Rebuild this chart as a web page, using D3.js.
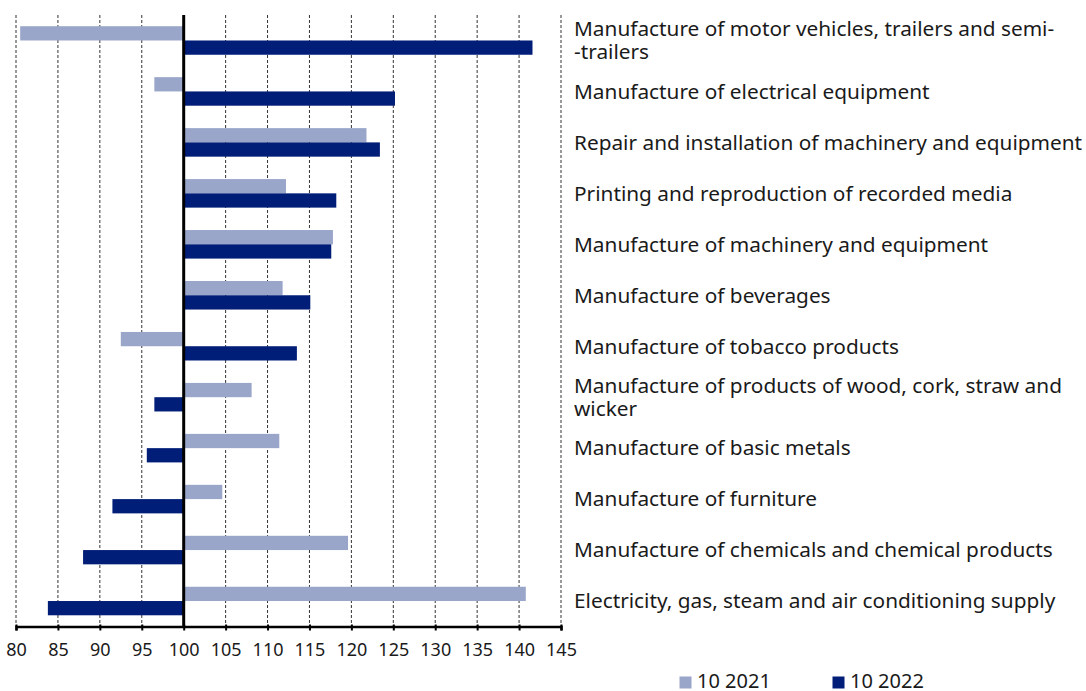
<!DOCTYPE html>
<html><head><meta charset="utf-8">
<script src="https://cdn.jsdelivr.net/npm/d3@7"></script>
<style>body{margin:0;background:#fff}svg{display:block}text{font-family:"Noto Sans",sans-serif;fill:#1a1a1a}</style>
</head><body><svg id="c" width="1086" height="691"></svg>
<script>
const categories = [
  ["Manufacture of motor vehicles, trailers and semi-", "-trailers"],
  ["Manufacture of electrical equipment"],
  ["Repair and installation of machinery and equipment"],
  ["Printing and reproduction of recorded media"],
  ["Manufacture of machinery and equipment"],
  ["Manufacture of beverages"],
  ["Manufacture of tobacco products"],
  ["Manufacture of products of wood, cork, straw and", "wicker"],
  ["Manufacture of basic metals"],
  ["Manufacture of furniture"],
  ["Manufacture of chemicals and chemical products"],
  ["Electricity, gas, steam and air conditioning supply"]
];
const series = ["10 2021", "10 2022"];
const values2021 = [80.5, 96.5, 121.8, 112.2, 117.8, 111.8, 92.5, 108.1, 111.4, 104.6, 119.6, 140.8];
const values2022 = [141.6, 125.2, 123.4, 118.2, 117.6, 115.1, 113.5, 96.5, 95.6, 91.5, 88.0, 83.8];
const tickValues = [80, 85, 90, 95, 100, 105, 110, 115, 120, 125, 130, 135, 140, 145];
const colors = ["#99a6ca", "#001d77"];

const svg = d3.select("#c");
const pL = 16, pR = 561, pT = 15, pB = 626.5;
const x = d3.scaleLinear().domain([80, 145]).range([pL, pR]);
const idx = d3.range(categories.length);
const y = d3.scaleBand().domain(idx).range([pT, pB]).paddingInner(0.44).paddingOuter(0.22);
const ys = d3.scaleBand().domain([0, 1]).range([0, y.bandwidth()]);
const data = [values2021, values2022];

// gridlines
svg.append("g").selectAll("line").data(tickValues.filter(v => v !== 100)).join("line")
  .attr("x1", d => x(d)).attr("x2", d => x(d)).attr("y1", pT).attr("y2", pB)
  .attr("stroke", "#333").attr("stroke-width", 1).attr("stroke-dasharray", "3,2");

// bars
idx.forEach(i => {
  [0, 1].forEach(s => {
    const v = data[s][i];
    svg.append("rect")
      .attr("x", x(Math.min(v, 100)))
      .attr("width", Math.abs(x(v) - x(100)))
      .attr("y", y(i) + ys(s))
      .attr("height", ys.bandwidth())
      .attr("fill", colors[s]);
  });
});

// 100 line
svg.append("line").attr("x1", x(100)).attr("x2", x(100)).attr("y1", pT).attr("y2", pB)
  .attr("stroke", "#000").attr("stroke-width", 3);

// x axis
const ax = svg.append("g").attr("transform", `translate(0,${pB})`)
  .call(d3.axisBottom(x).tickValues(tickValues).tickSize(4).tickFormat(d3.format("d")));
ax.select(".domain").attr("stroke", "#000").attr("stroke-width", 2.5);
ax.selectAll(".tick line").attr("stroke", "#000").attr("stroke-width", 2).attr("y1", -2);
ax.selectAll("text").style("font-size", "18px").style("font-family", '"Noto Sans",sans-serif')
  .attr("fill", "#1a1a1a").attr("y", 29.5).attr("dy", 0);

// category labels
const lab = svg.append("g");
idx.forEach(i => {
  const lines = categories[i];
  const cy = y(i) + y.bandwidth() / 2;
  const lh = 23;
  const t = lab.append("text").attr("x", 574).attr("font-size", 20.8);
  lines.forEach((l, k) => {
    t.append("tspan").attr("x", 574)
      .attr("y", cy + (k - (lines.length - 1) / 2) * lh)
      .attr("dy", "0.35em").text(l);
  });
});

// legend
const leg = svg.append("g");
[[679.5, 697], [832.5, 850]].forEach((p, s) => {
  leg.append("rect").attr("x", p[0]).attr("y", 676.5).attr("width", 12).attr("height", 12).attr("fill", colors[s]);
  leg.append("text").attr("x", p[1]).attr("y", 688).attr("font-size", 20).text(series[s]);
});
</script></body></html>
